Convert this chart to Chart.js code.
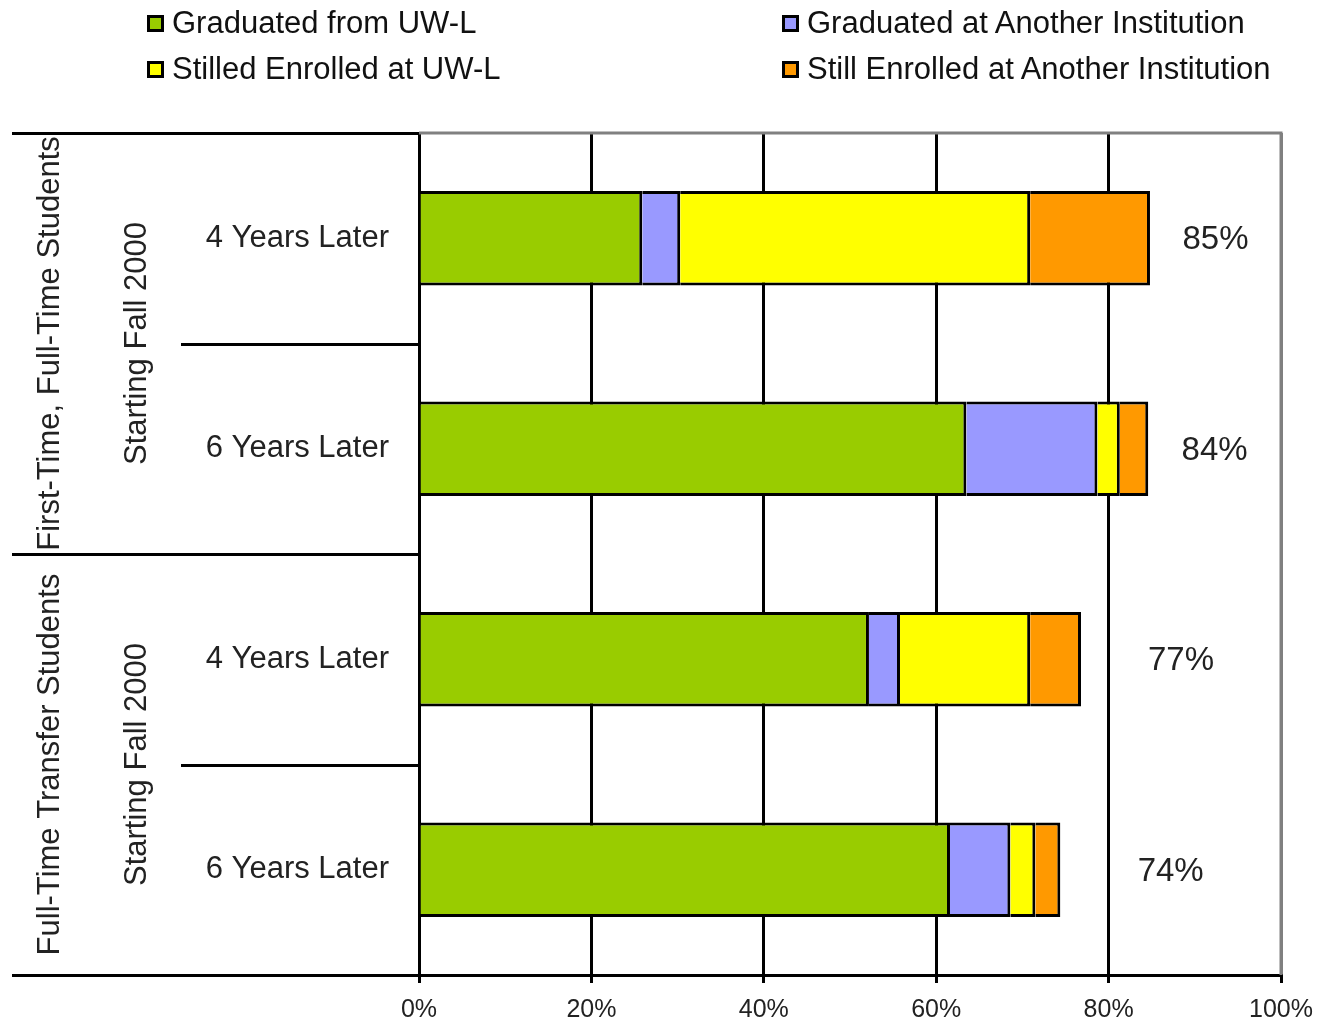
<!DOCTYPE html>
<html>
<head>
<meta charset="utf-8">
<script src="https://cdn.jsdelivr.net/npm/chart.js@4.4.0/dist/chart.umd.min.js"></script>
<style>
  html, body { margin: 0; padding: 0; background: #fff; }
  #wrap { position: relative; width: 1318px; height: 1028px; overflow: hidden; }
  #legend { position: absolute; left: 0; top: 0; width: 1318px; height: 100px; font-family: "Liberation Sans", Arial, sans-serif; font-size: 31px; color: #111; }
  .item { position: absolute; display: flex; align-items: center; white-space: nowrap; }
  .box { width: 11px; height: 11px; border: 3px solid #000; margin-right: 8px; }
</style>
</head>
<body>
<div id="wrap">
  <canvas id="chart" width="1318" height="1028"></canvas>
  <div id="legend"></div>
</div>
<script>
'use strict'
// rows, top to bottom
var categories = ['4 Years Later', '6 Years Later', '4 Years Later', '6 Years Later'];
var groups = ['First-Time, Full-Time Students', 'Full-Time Transfer Students'];
var subGroup = 'Starting Fall 2000';

var seriesNames = ['Graduated from UW-L', 'Graduated at Another Institution', 'Stilled Enrolled at UW-L', 'Still Enrolled at Another Institution'];
var seriesColors = ['#99CC00', '#9999FF', '#FFFF00', '#FF9900'];

var gradUWL       = [25.9, 63.5, 52.2, 61.6];
var gradOther     = [4.4, 15.2, 3.6, 7.0];
var enrolledUWL   = [40.6, 2.6, 15.1, 2.9];
var enrolledOther = [13.9, 3.3, 5.9, 2.9];
var totalLabels   = ['85%', '84%', '77%', '74%'];
var xTicks = [0, 20, 40, 60, 80, 100];

var seriesValues = [gradUWL, gradOther, enrolledUWL, enrolledOther];

// invisible part up to 100%, the total label sits in its middle
var remainder = categories.map(function (c, i) {
  return 100 - (gradUWL[i] + gradOther[i] + enrolledUWL[i] + enrolledOther[i]);
});

var FONT = '"Liberation Sans", Arial, sans-serif';

// legend, 2 x 2
var legendPos = [[147, 14], [147, 60], [782, 14], [782, 60]];
var legendOrder = [0, 2, 1, 3];
var legend = document.getElementById('legend');
legendOrder.forEach(function (s, k) {
  var d = document.createElement('div');
  d.className = 'item';
  d.style.left = legendPos[k][0] + 'px';
  d.style.top = (legendPos[k][1] - 6) + 'px';
  d.style.height = '30px';
  d.innerHTML = '<span class="box" style="background:' + seriesColors[s] + '"></span><span>' + seriesNames[s] + '</span>';
  legend.appendChild(d);
});

var datasets = seriesValues.map(function (vals, i) {
  return {
    label: seriesNames[i],
    data: vals,
    backgroundColor: seriesColors[i],
    borderColor: '#000',
    borderWidth: 3
  };
});
datasets.push({
  label: 'total',
  data: remainder,
  backgroundColor: 'rgba(0,0,0,0)',
  borderWidth: 0
});

var extras = {
  id: 'extras',
  beforeDatasetsDraw: function (chart) {
    var ctx = chart.ctx, a = chart.chartArea;
    ctx.save();
    ctx.strokeStyle = '#808080';
    ctx.lineWidth = 3;
    ctx.beginPath();
    ctx.moveTo(a.left, a.top);
    ctx.lineTo(a.right, a.top);
    ctx.lineTo(a.right, a.bottom);
    ctx.stroke();
    ctx.restore();
  },
  afterDraw: function (chart) {
    var ctx = chart.ctx, a = chart.chartArea, y = chart.scales.y;
    ctx.save();
    ctx.strokeStyle = '#000';
    ctx.lineWidth = 3;
    var edges = [a.top];
    for (var i = 0; i < categories.length - 1; i++) {
      edges.push((y.getPixelForValue(i) + y.getPixelForValue(i + 1)) / 2);
    }
    edges.push(a.bottom);
    edges.forEach(function (e, k) {
      var x0 = (k % 2 === 0) ? 12 : 181;
      ctx.beginPath();
      ctx.moveTo(x0, Math.round(e) + 0.5);
      ctx.lineTo(a.left, Math.round(e) + 0.5);
      ctx.stroke();
    });
    // group labels
    ctx.fillStyle = '#222';
    ctx.textAlign = 'center';
    ctx.textBaseline = 'middle';
    ctx.font = '31px ' + FONT;
    groups.forEach(function (g, k) {
      var cy = (edges[k * 2] + edges[k * 2 + 2]) / 2;
      ctx.save();
      ctx.translate(50, cy);
      ctx.rotate(-Math.PI / 2);
      ctx.fillText(g, 0, 0);
      ctx.restore();
      ctx.save();
      ctx.translate(137, cy);
      ctx.rotate(-Math.PI / 2);
      ctx.fillText(subGroup, 0, 0);
      ctx.restore();
    });
    // total labels
    var meta = chart.getDatasetMeta(datasets.length - 1);
    ctx.font = '33px ' + FONT;
    meta.data.forEach(function (bar, i) {
      var c = bar.getCenterPoint();
      ctx.fillText(totalLabels[i], c.x, c.y + 2);
    });
    ctx.restore();
  }
};

new Chart(document.getElementById('chart'), {
  type: 'bar',
  data: { labels: categories, datasets: datasets },
  options: {
    indexAxis: 'y',
    responsive: false,
    animation: false,
    layout: { padding: { left: 0, top: 133, right: 37, bottom: 0 } },
    datasets: { bar: { barPercentage: 0.45, categoryPercentage: 1 } },
    plugins: { legend: { display: false }, tooltip: { enabled: false } },
    scales: {
      x: {
        stacked: true,
        min: 0,
        max: 100,
        afterBuildTicks: function (s) { s.ticks = xTicks.map(function (v) { return { value: v }; }); },
        afterFit: function (s) { s.height = 53; s.paddingLeft = 0; s.paddingRight = 0; },
        grid: {
          color: function (c) { return c.tick && c.tick.value === 100 ? '#808080' : '#000'; },
          lineWidth: 3,
          tickLength: 8,
          tickColor: '#000',
          tickWidth: 3
        },
        border: { color: '#000', width: 3 },
        ticks: {
          color: '#222',
          padding: 12,
          font: { family: FONT, size: 25 },
          maxRotation: 0,
          callback: function (v) { return v + '%'; }
        }
      },
      y: {
        stacked: true,
        afterFit: function (s) { s.width = 419; s.paddingTop = 0; s.paddingBottom = 0; },
        grid: { display: false },
        border: { color: '#000', width: 3 },
        ticks: {
          color: '#222',
          padding: 22,
          font: { family: FONT, size: 31 }
        }
      }
    }
  },
  plugins: [extras]
});
</script>
</body>
</html>
